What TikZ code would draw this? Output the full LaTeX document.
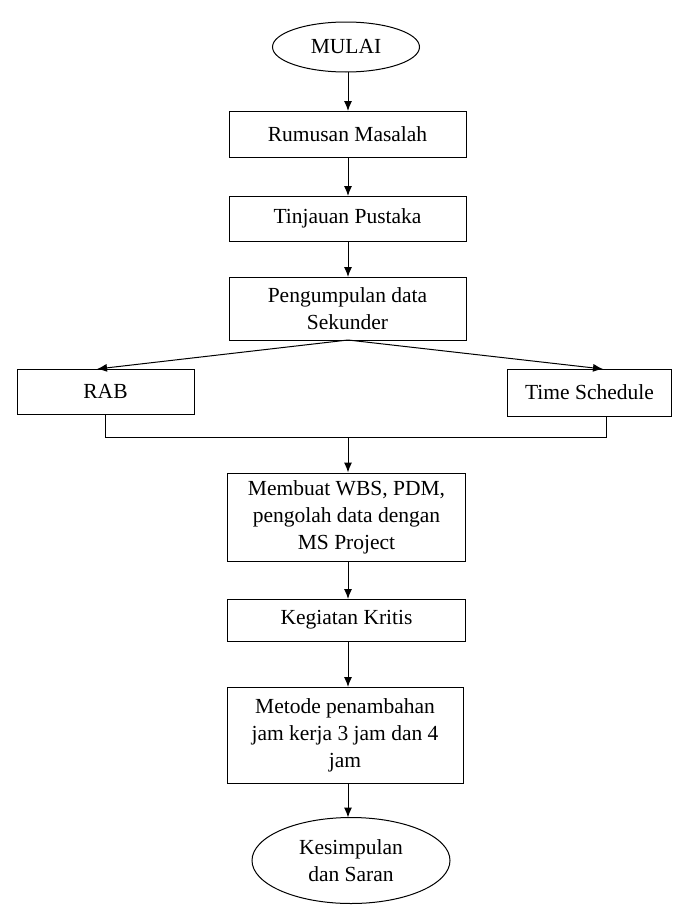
\documentclass[tikz,border=0pt]{standalone}
\usepackage{fontspec}
\setmainfont{Liberation Serif}
\usetikzlibrary{shapes.geometric,arrows.meta,calc}
\begin{document}
\begin{tikzpicture}[x=1pt,y=-1pt,
  every node/.style={font=\fontsize{21.5}{27}\selectfont, align=center, inner sep=2pt},
  box/.style={draw, line width=1pt, rectangle},
  oval/.style={draw, line width=1pt, ellipse},
  arr/.style={line width=1pt, -{Latex[length=10pt,width=8pt]}},
  ln/.style={line width=1pt}]
\useasboundingbox (0,0) rectangle (673,905);
\node[oval, minimum width=147pt, minimum height=50pt] (mulai) at (346,47) {MULAI};
\node[box, minimum width=237pt, minimum height=46pt] (rumusan) at (347.5,134) {Rumusan Masalah};
\node[box, minimum width=237pt, minimum height=45pt] (tinjauan) at (347.5,218.5) {Tinjauan Pustaka};
\node[box, minimum width=237pt, minimum height=63pt] (kumpul) at (347.5,308.5) {Pengumpulan data\\Sekunder};
\node[box, minimum width=177pt, minimum height=45pt] (rab) at (105.5,391.5) {RAB};
\node[box, minimum width=164pt, minimum height=47pt] (time) at (589.5,392.5) {Time Schedule};
\node[box, minimum width=238pt, minimum height=88pt] (membuat) at (346.5,517) {Membuat WBS, PDM,\\pengolah data dengan\\MS Project};
\node[box, minimum width=238pt, minimum height=42pt] (kritis) at (346.5,620) {Kegiatan Kritis};
\node[box, minimum width=236pt, minimum height=96pt] (metode) at (345,735) {Metode penambahan\\jam kerja 3 jam dan 4\\jam};
\node[oval, minimum width=198pt, minimum height=86pt, inner sep=0pt] (simpul) at (351,860.5) {Kesimpulan\\dan Saran};

\coordinate (join) at (348,437);
\draw[arr] (348,72) -- (348,111);
\draw[arr] (348,157) -- (348,196);
\draw[arr] (348,241) -- (348,277);
\draw[arr] (348,340) -- (97,369);
\draw[arr] (348,340) -- (603,369);
\draw[ln] (rab.south) -- (rab.south |- join) -- (606,437) -- (606,416);
\draw[arr] (join) -- (membuat.north -| join);
\draw[arr] (348,561) -- (348,599);
\draw[arr] (348,641) -- (348,687);
\draw[arr] (348,783) -- (348,817.5);
\end{tikzpicture}
\end{document}
